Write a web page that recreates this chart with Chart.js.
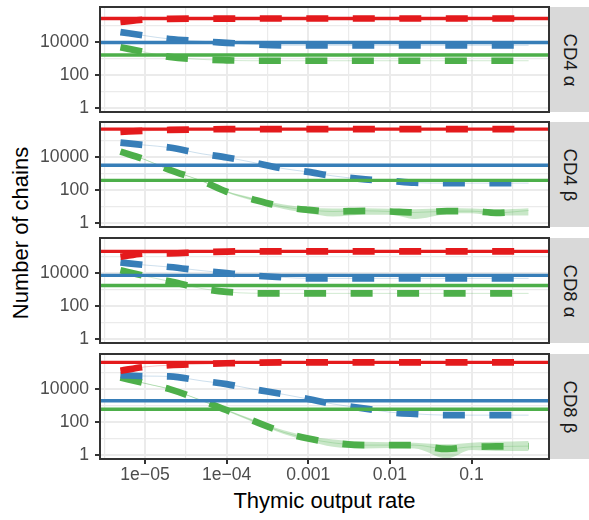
<!DOCTYPE html>
<html>
<head>
<meta charset="utf-8">
<script src="https://cdn.jsdelivr.net/npm/chart.js@4.4.1/dist/chart.umd.min.js"></script>
<style>
  body { margin: 0; background: #fff; }
  #wrap { position: relative; width: 589px; height: 520px; overflow: hidden; font-family: "Liberation Sans", Arial, sans-serif; }
  #wrap canvas { position: absolute; left: 0; }
  .strip { position: absolute; left: 550px; width: 39px; background: #d9d9d9; }
  .strip span { position: absolute; left: 50%; top: 50%; white-space: nowrap; font-size: 18.5px; color: #1a1a1a;
    transform: translate(-50%, -50%) rotate(90deg); }
  .ytitle { position: absolute; left: -212px; top: 220px; width: 466px; height: 26px; line-height: 26px;
    text-align: center; font-size: 22px; color: #000; transform: rotate(-90deg); }
  .xtitle { position: absolute; left: 100px; top: 490px; width: 449px; line-height: 22px;
    text-align: center; font-size: 22px; color: #000; }
</style>
</head>
<body>
<div id="wrap">
  <div class="ytitle">Number of chains</div>
  <div class="xtitle">Thymic output rate</div>
</div>
<script>
// thymic output rates at which each model was evaluated
const xValues = [5e-6, 1e-5, 2e-5, 5e-5, 1e-4, 2e-4, 5e-4, 1e-3, 2e-3, 5e-3, 0.01, 0.02, 0.05, 0.1, 0.2, 0.5];

// grid lines (major + log-midpoint minor) and their labels
const xGridValues = [3.162e-6, 1e-5, 3.162e-5, 1e-4, 3.162e-4, 1e-3, 3.162e-3, 0.01, 0.03162, 0.1, 0.3162];
const xTickLabels = ["", "1e−05", "", "1e−04", "", "0.001", "", "0.01", "", "0.1", ""];
const yGridValues = [1, 10, 100, 1000, 10000, 100000];
const yTickLabels = ["1", "", "100", "", "10000", ""];

const panelLabels = ["CD4 α", "CD4 β", "CD8 α", "CD8 β"];

// CD4 alpha
const cd4aRed = [166000, 234000, 258000, 265000, 268000, 270000, 270000, 270000, 270000, 270000, 270000, 270000, 270000, 270000, 270000, 270000];
const cd4aBlue = [40700, 24500, 15500, 11200, 9100, 7400, 6400, 6400, 6400, 6400, 6400, 6400, 6400, 6400, 6400, 6400];
const cd4aGreen = [4900, 2450, 1260, 890, 790, 740, 740, 740, 740, 740, 740, 740, 740, 740, 740, 740];
const cd4aRef = [270000, 9500, 1660];

// CD4 beta
const cd4bRed = [339000, 398000, 447000, 479000, 500000, 500000, 500000, 500000, 500000, 500000, 500000, 500000, 500000, 500000, 500000, 500000];
const cd4bBlue = [75900, 53700, 38000, 15800, 9550, 5010, 2000, 1260, 724, 447, 363, 282, 263, 263, 263, 263];
const cd4bGreen = [21400, 7080, 1700, 355, 79.4, 29.5, 9.55, 6.31, 5.01, 5.5, 5.01, 4.37, 5.25, 5.25, 4.17, 5.75];
const cd4bGreenLow = [20400, 6760, 1620, 331, 70.8, 24, 7.08, 3.98, 2.51, 3.16, 3.16, 1.78, 3.55, 3.98, 2.82, 2.82];
const cd4bGreenHigh = [22400, 7410, 1780, 380, 89.1, 35.5, 13.2, 8.91, 7.59, 7.94, 7.24, 6.92, 7.94, 7.59, 6.61, 7.94];
const cd4bRef = [500000, 3240, 390];

// CD8 alpha
const cd8aRed = [97700, 155000, 158000, 186000, 204000, 209000, 209000, 209000, 209000, 209000, 209000, 209000, 209000, 209000, 209000, 209000];
const cd8aBlue = [44700, 30900, 23400, 14100, 10000, 7240, 5500, 4790, 4790, 4790, 4790, 4790, 4790, 4790, 4790, 4790];
const cd8aGreen = [15100, 6610, 3160, 1150, 724, 603, 589, 589, 589, 589, 589, 589, 589, 589, 589, 589];
const cd8aRef = [209000, 7240, 1780];

// CD8 beta
const cd8bRed = [129000, 224000, 282000, 331000, 372000, 398000, 417000, 417000, 417000, 417000, 417000, 417000, 417000, 417000, 417000, 417000];
const cd8bBlue = [70800, 61700, 58900, 31600, 20000, 10500, 4790, 2510, 1260, 661, 398, 316, 263, 263, 263, 263];
const cd8bGreen = [51300, 22400, 10000, 2000, 525, 132, 24, 10, 5.5, 3.98, 3.98, 3.98, 2.34, 3.16, 3.31, 3.47];
const cd8bGreenLow = [49000, 21400, 9550, 1860, 468, 112, 19.1, 7.08, 3.16, 2.51, 2.63, 2.51, 0.63, 2.0, 1.78, 1.78];
const cd8bGreenHigh = [53700, 23400, 10500, 2140, 589, 158, 31.6, 14.1, 8.91, 6.31, 6.03, 5.62, 4.47, 5.62, 6.31, 7.08];
const cd8bRef = [417000, 1950, 603];

const RED = "#E41A1C", BLUE = "#377EB8", GREEN = "#4DAF4A";
const xMin = 2.81e-6, xMax = 0.889;
const yMin = 0.575, yMax = 1.35e6;

const panelTops = [7, 122, 238, 354];
const panelHeight = 105;

const panels = [
  { red: cd4aRed, blue: cd4aBlue, green: cd4aGreen, ref: cd4aRef },
  { red: cd4bRed, blue: cd4bBlue, green: cd4bGreen, ref: cd4bRef, band: [cd4bGreenLow, cd4bGreenHigh] },
  { red: cd8aRed, blue: cd8aBlue, green: cd8aGreen, ref: cd8aRef },
  { red: cd8bRed, blue: cd8bBlue, green: cd8bGreen, ref: cd8bRef, band: [cd8bGreenLow, cd8bGreenHigh] },
];

Chart.defaults.font.family = '"Liberation Sans", Arial, sans-serif';
Chart.defaults.elements.point.radius = 0;

const pts = (ys) => xValues.map((x, i) => ({ x, y: ys[i] }));

const panelBorder = {
  id: "panelBorder",
  afterDatasetsDraw(chart) {
    const { ctx, chartArea: a } = chart;
    ctx.save();
    ctx.strokeStyle = "#333333";
    ctx.lineWidth = 2;
    ctx.strokeRect(a.left, a.top, a.right - a.left, a.bottom - a.top);
    ctx.restore();
  },
};

function buildDatasets(p) {
  const colors = [RED, BLUE, GREEN];
  const series = [p.red, p.blue, p.green];
  const sets = [];
  // reference levels, drawn on top
  p.ref.forEach((y, i) => {
    sets.push({ data: [{ x: xMin, y }, { x: xMax, y }], borderColor: colors[i], borderWidth: 3.4, order: 0 });
  });
  series.forEach((ys, i) => {
    sets.push({
      data: pts(ys), borderColor: colors[i], borderWidth: 6.7, borderDash: [22, 24.5],
      borderCapStyle: "butt", cubicInterpolationMode: "monotone", order: 1,
    });
    sets.push({
      data: pts(ys), borderColor: colors[i] + "40", borderWidth: 1,
      cubicInterpolationMode: "monotone", order: 2,
    });
  });
  if (p.band) {
    sets.push({ data: pts(p.band[1]), borderColor: "transparent", borderWidth: 0, cubicInterpolationMode: "monotone", order: 3 });
    sets.push({
      data: pts(p.band[0]), borderColor: "transparent", borderWidth: 0, cubicInterpolationMode: "monotone",
      fill: "-1", backgroundColor: "rgba(77,175,74,0.3)", order: 3,
    });
  }
  return sets;
}

const wrap = document.getElementById("wrap");

panels.forEach((p, idx) => {
  const isBottom = idx === panels.length - 1;
  const canvas = document.createElement("canvas");
  const h = 4 + panelHeight + (isBottom ? 32 : 4);
  canvas.width = 552;
  canvas.height = h;
  canvas.style.top = (panelTops[idx] - 4) + "px";
  wrap.appendChild(canvas);

  const strip = document.createElement("div");
  strip.className = "strip";
  strip.style.top = panelTops[idx] + "px";
  strip.style.height = panelHeight + "px";
  strip.innerHTML = "<span>" + panelLabels[idx] + "</span>";
  wrap.appendChild(strip);

  new Chart(canvas.getContext("2d"), {
    type: "line",
    data: { datasets: buildDatasets(p) },
    plugins: [panelBorder],
    options: {
      responsive: false,
      animation: false,
      devicePixelRatio: 1,
      layout: { padding: { left: 0, right: 3, top: 4, bottom: isBottom ? 0 : 4 } },
      plugins: { legend: { display: false }, tooltip: { enabled: false } },
      scales: {
        x: {
          type: "logarithmic",
          min: xMin,
          max: xMax,
          afterBuildTicks: (s) => { s.ticks = xGridValues.map((value) => ({ value })); },
          afterFit: (s) => {
            s.height = isBottom ? 32 : 0;
            s.paddingLeft = 0;
            s.paddingRight = 0;
          },
          border: { display: false },
          grid: {
            color: "#EBEBEB",
            lineWidth: (c) => (xTickLabels[c.index] ? 2 : 1.2),
            drawTicks: isBottom,
            tickLength: 5,
            tickWidth: 2,
            tickColor: (c) => (xTickLabels[c.index] ? "#333333" : "rgba(0,0,0,0)"),
          },
          ticks: {
            display: isBottom,
            autoSkip: false,
            maxRotation: 0,
            padding: 1,
            color: "#4D4D4D",
            font: { size: 17.6 },
            callback: (v, i) => xTickLabels[i],
          },
        },
        y: {
          type: "logarithmic",
          min: yMin,
          max: yMax,
          afterBuildTicks: (s) => { s.ticks = yGridValues.map((value) => ({ value })); },
          afterFit: (s) => {
            s.width = 100;
            s.paddingTop = 0;
            s.paddingBottom = 0;
          },
          border: { display: false },
          grid: {
            color: "#EBEBEB",
            lineWidth: (c) => (yTickLabels[c.index] ? 2 : 1.2),
            tickLength: 5,
            tickWidth: 2,
            tickColor: (c) => (yTickLabels[c.index] ? "#333333" : "rgba(0,0,0,0)"),
          },
          ticks: {
            autoSkip: false,
            padding: 6,
            color: "#4D4D4D",
            font: { size: 17.6 },
            callback: (v, i) => yTickLabels[i],
          },
        },
      },
    },
  });
});
</script>
</body>
</html>
